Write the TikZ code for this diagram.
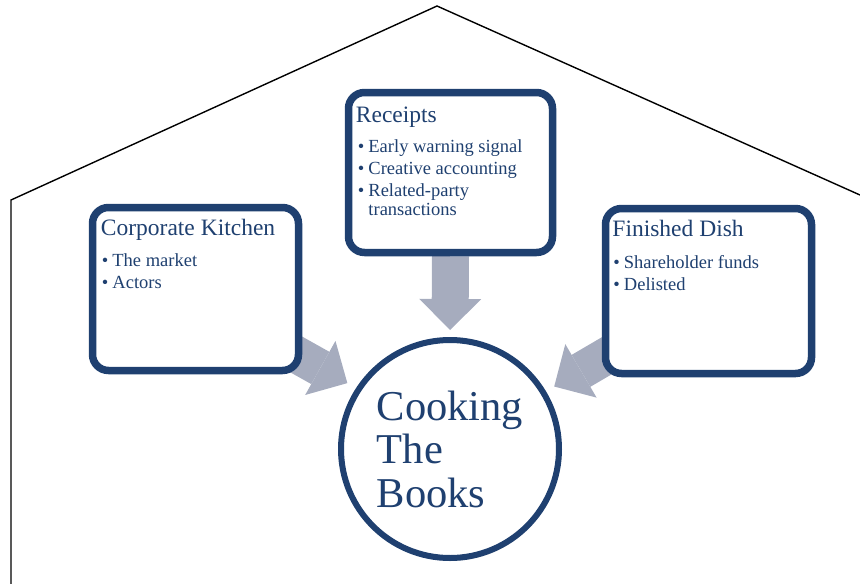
\documentclass[tikz,border=0pt]{standalone}
\usepackage{fontspec}
\setmainfont{Liberation Serif}
\usetikzlibrary{arrows.meta,backgrounds,shadows}

\definecolor{bookblue}{RGB}{31,64,112}
\definecolor{arrowgrey}{RGB}{166,172,190}

% one bullet line, second line hangs under the text
\newcommand{\itm}[1]{\hangindent=10.5pt\hangafter=1\noindent\makebox[10.5pt][l]{\textbullet}#1\par}
\newcommand{\blist}[1]{\parbox[t]{190pt}{\raggedright\setlength{\parskip}{3pt}#1}}

\begin{document}
\begin{tikzpicture}[x=1pt,y=-1pt,
    box/.style={draw=bookblue, line width=7.5pt, rounded corners=16pt, fill=white,
      drop shadow={opacity=0.2, shadow xshift=1pt, shadow yshift=-3pt}},
    title/.style={anchor=base west, inner sep=0pt, text=bookblue,
      font=\fontsize{23.5}{28}\selectfont},
    items/.style={anchor=base west, inner sep=0pt, text=bookblue,
      font=\fontsize{18.5}{19}\selectfont},
    feed/.style={line width=37pt, draw=arrowgrey,
      -{Triangle[length=31pt,width=62pt,line width=0pt]}}]
  \useasboundingbox (0,0) rectangle (860,584);

  % house outline
  \coordinate (footL) at (11,584);
  \coordinate (eaveL) at (11,200);
  \coordinate (peak) at (437,6);
  \coordinate (eaveR) at (860,195);
  \draw[line width=1.4pt] (footL) -- (eaveL) -- (peak) -- (eaveR);

  % boxes
  \node[box, minimum width=206pt, minimum height=163pt] (kit) at (195.5,289) {};
  \node[box, minimum width=204pt, minimum height=160pt] (rec) at (450.5,172.5) {};
  \node[box, minimum width=206pt, minimum height=165pt] (fin) at (708.5,291) {};
  \node[circle, draw=bookblue, line width=6pt, fill=white, minimum size=218pt,
    inner sep=0pt, align=left, text=bookblue, font=\fontsize{42.5}{43.5}\selectfont,
    drop shadow={opacity=0.2, shadow xshift=1pt, shadow yshift=-3pt}]
    (cook) at (450,449) {Cooking\\The\\Books};

  % box texts
  \node[title] (kit-t) at ([xshift=12pt,yshift=-32pt]kit.north west) {Corporate Kitchen};
  \node[items] (kit-l) at ([xshift=13pt,yshift=-63pt]kit.north west)
    {\blist{\itm{The market}\itm{Actors}}};
  \node[title] (rec-t) at ([xshift=11pt,yshift=-34pt]rec.north west) {Receipts};
  \node[items] (rec-l) at ([xshift=13pt,yshift=-63.5pt]rec.north west)
    {\blist{\itm{Early warning signal}\itm{Creative accounting}\itm{Related-party\newline transactions}}};
  \node[title] (fin-t) at ([xshift=10.5pt,yshift=-32pt]fin.north west) {Finished Dish};
  \node[items] (fin-l) at ([xshift=11.5pt,yshift=-64pt]fin.north west)
    {\blist{\itm{Shareholder funds}\itm{Delisted}}};

  % block arrows into the circle
  \begin{scope}[on background layer]
    \draw[feed, shorten >=7pt] (rec.south) -- (cook.north);
    \draw[feed, shorten >=10pt] ([xshift=-26pt,yshift=31pt]kit.south east) -- (cook.147.6);
    \draw[feed, shorten >=9.5pt] ([xshift=23pt,yshift=32pt]fin.south west) -- (cook.31.5);
  \end{scope}
\end{tikzpicture}
\end{document}
